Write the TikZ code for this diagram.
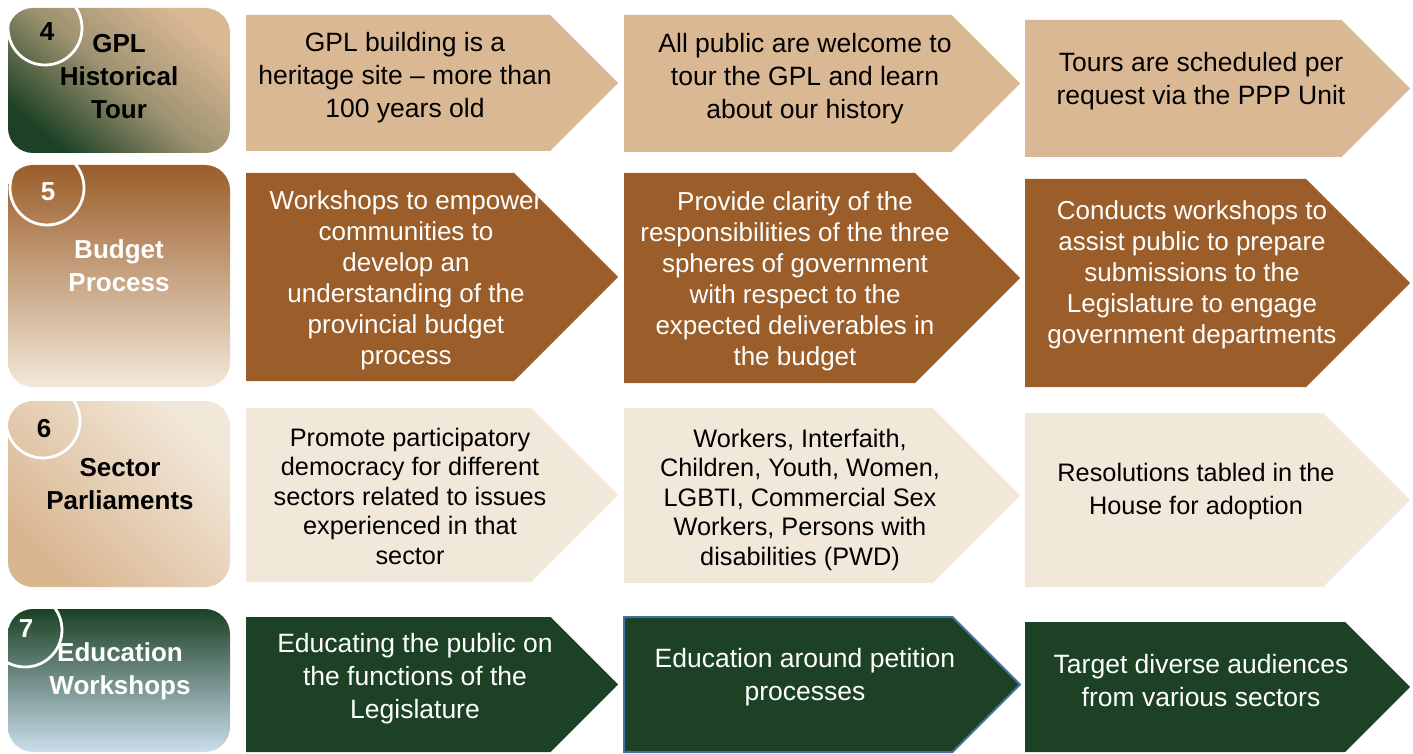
\documentclass[tikz,border=0pt]{standalone}
\usepackage{fontspec}
\setmainfont{Liberation Sans}

\definecolor{gpltan}{HTML}{DAB894}
\definecolor{gplbrown}{HTML}{9B5E2A}
\definecolor{gplcream}{HTML}{F2E8D9}
\definecolor{gplgreen}{HTML}{1C4125}
\definecolor{gplsky}{HTML}{CADDED}
\definecolor{gpledge}{HTML}{41719C}

% arrow block: style, left x, top y, tip x, bottom y
\newcommand\gplarrow[5]{\path[#1] (#2,#3) -- ({#4-(#5-#3)/2},#3) -- (#4,{(#3+#5)/2}) -- ({#4-(#5-#3)/2},#5) -- (#2,#5) -- cycle;}

\tikzset{
  box/.style={rounded corners=25pt, inner sep=0pt, minimum width=222pt},
  ring/.style={circle, draw=white, line width=2.8pt, minimum size=74pt, inner sep=0pt},
  num/.style={font=\bfseries\fontsize{26}{30}\selectfont, inner sep=0pt},
  lbl/.style={align=center, font=\bfseries\fontsize{26}{33}\selectfont, inner sep=0pt},
  txt/.style={align=center, inner sep=0pt},
}

\begin{document}
\begin{tikzpicture}[x=1pt, y=-1pt]
\useasboundingbox[fill=white] (0,0) rectangle (1413,754);

% row 4
\node[box, minimum height=145pt, top color=gpltan, bottom color=gplgreen, middle color=gpltan!68!gplgreen, shading angle=-40] (b4) at (119,80.5) {};
\begin{scope}
\clip (8,0) rectangle (230,153);
\node[ring] (r4) at (45,28) {};
\end{scope}
\node[num] (n4) at (47,32) {4};
\node[lbl] (l4) at (119,77) {GPL\\Historical\\Tour};
\gplarrow{fill=gpltan}{246}{15}{618}{151}
\gplarrow{fill=gpltan}{624}{15}{1020}{152}
\gplarrow{fill=gpltan}{1025}{20}{1410}{157}
\begin{scope}[every node/.style={txt, font=\fontsize{26.5}{33}\selectfont}]
\node (t4a) at (405,78) {GPL building is a\\heritage site – more than\\100 years old};
\node (t4b) at (805,79) {All public are welcome to\\tour the GPL and learn\\about our history};
\node (t4c) at (1201,81) {Tours are scheduled per\\request via the PPP Unit};
\end{scope}

% row 5
\node[box, minimum height=222pt, top color=gplbrown, bottom color=gplcream] (b5) at (119,276) {};
\begin{scope}
\clip (8,163) rectangle (230,387);
\node[ring] (r5) at (47,188) {};
\end{scope}
\node[num, white] (n5) at (48,192) {5};
\node[lbl, white] (l5) at (119,266) {Budget\\Process};
\gplarrow{fill=gplbrown}{246}{173}{618}{381}
\gplarrow{fill=gplbrown}{624}{173}{1020}{383}
\gplarrow{fill=gplbrown}{1025}{179}{1410}{387}
\begin{scope}[every node/.style={txt, white, font=\fontsize{26}{31}\selectfont}]
\node (t5a) at (406,280.5) {Workshops to empower\\communities to\\develop an\\understanding of the\\provincial budget\\process};
\node (t5b) at (795,281.5) {Provide clarity of the\\responsibilities of the three\\spheres of government\\with respect to the\\expected deliverables in\\the budget};
\node (t5c) at (1192,275) {Conducts workshops to\\assist public to prepare\\submissions to the\\Legislature to engage\\government departments};
\end{scope}

% row 6
\node[box, minimum height=186pt, top color=gplcream, bottom color=gpltan!95!brown, shading angle=-45] (b6) at (119,494) {};
\begin{scope}
\clip (8,399) rectangle (230,587);
\node[ring] (r6) at (43,421) {};
\end{scope}
\node[num] (n6) at (44,429) {6};
\node[lbl] (l6) at (120,484) {Sector\\Parliaments};
\gplarrow{fill=gplcream}{246}{408}{618}{582}
\gplarrow{fill=gplcream}{624}{408}{1020}{583}
\gplarrow{fill=gplcream}{1025}{413}{1410}{587}
\begin{scope}[every node/.style={txt, font=\fontsize{25.3}{29.5}\selectfont}]
\node (t6a) at (410,496) {Promote participatory\\democracy for different\\sectors related to issues\\experienced in that\\sector};
\node (t6b) at (800,499.5) {Workers, Interfaith,\\Children, Youth, Women,\\LGBTI, Commercial Sex\\Workers, Persons with\\disabilities (PWD)};
\node[font=\fontsize{25.3}{33}\selectfont] (t6c) at (1196,491.5) {Resolutions tabled in the\\House for adoption};
\end{scope}

% row 7
\node[box, minimum height=143pt, top color=gplgreen, bottom color=gplsky] (b7) at (119,680.5) {};
\begin{scope}
\clip (8,607) rectangle (230,752);
\node[ring] (r7) at (25,630) {};
\end{scope}
\node[num, white] (n7) at (26,629) {7};
\node[lbl, white] (l7) at (120,671) {Education\\Workshops};
\gplarrow{fill=gplgreen}{246}{617}{618}{752}
\gplarrow{fill=gplgreen, draw=gpledge, line width=2pt}{624}{617}{1020}{752}
\gplarrow{fill=gplgreen}{1025}{622}{1410}{752}
\begin{scope}[every node/.style={txt, white, font=\fontsize{26.5}{33}\selectfont}]
\node (t7a) at (415,679) {Educating the public on\\the functions of the\\Legislature};
\node (t7b) at (805,677) {Education around petition\\processes};
\node (t7c) at (1201,681) {Target diverse audiences\\from various sectors};
\end{scope}
\end{tikzpicture}
\end{document}
